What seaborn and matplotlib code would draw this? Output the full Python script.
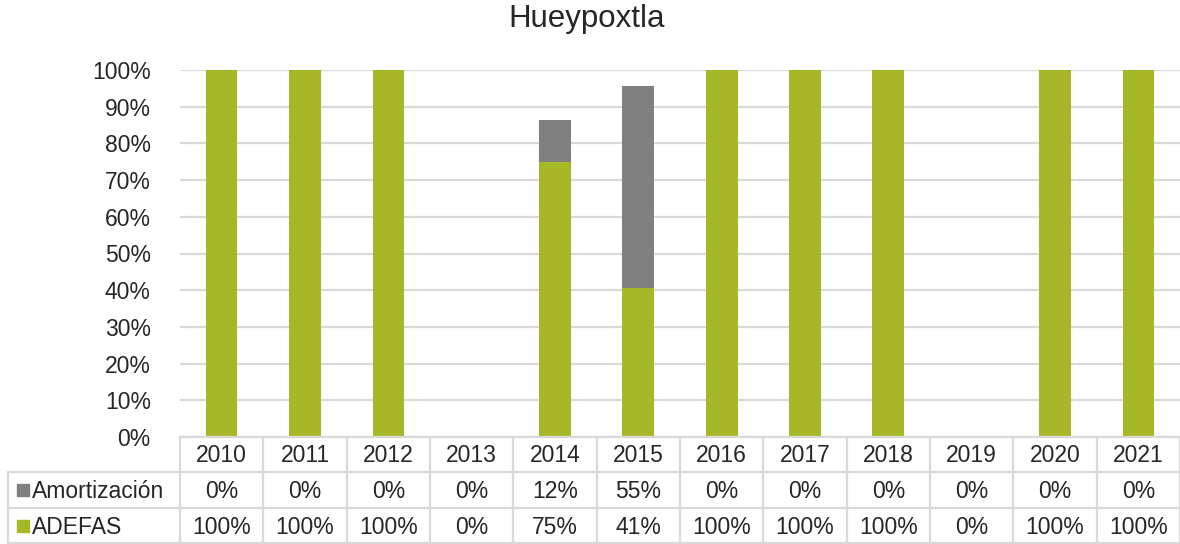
import numpy as np
import pandas as pd
import matplotlib
matplotlib.use("Agg")
import matplotlib.pyplot as plt
import seaborn as sns
from matplotlib.lines import Line2D
from matplotlib.patches import Rectangle

years = ["2010", "2011", "2012", "2013", "2014", "2015",
         "2016", "2017", "2018", "2019", "2020", "2021"]
adefas = [100, 100, 100, 0, 75, 40.6, 100, 100, 100, 0, 100, 100]
amortizacion = [0, 0, 0, 0, 11.5, 55.0, 0, 0, 0, 0, 0, 0]
series_names = ["Amortización", "ADEFAS"]

GREEN = "#A6B828"
GRAY = "#808080"
GRID = "#D9D9D9"
W, H = 1180, 544

sns.set_style("white")
plt.rcParams["font.family"] = ["Liberation Sans", "DejaVu Sans"]

df = pd.DataFrame({"year": years, "ADEFAS": adefas, "Amortización": amortizacion})
df["total"] = df["ADEFAS"] + df["Amortización"]

fig = plt.figure(figsize=(W / 100, H / 100), dpi=100)
ax = fig.add_axes([180 / W, 1 - 437 / H, 1000 / W, 367 / H])

# stacked: total in gray, ADEFAS in green on top of it
sns.barplot(data=df, x="year", y="total", color=GRAY, width=0.38,
            saturation=1, linewidth=0, ax=ax, zorder=3)
sns.barplot(data=df, x="year", y="ADEFAS", color=GREEN, width=0.38,
            saturation=1, linewidth=0, ax=ax, zorder=4)

fs = 16.5
ax.set_ylim(0, 100)
ax.set_xlim(-0.5, len(years) - 0.5)
ax.set_yticks(np.arange(0, 101, 10))
ax.set_yticklabels([f"{t}%" for t in range(0, 101, 10)], fontsize=fs)
ax.tick_params(axis="y", length=0, pad=21)
ax.set_xticks([])
ax.set_xlabel("")
ax.set_ylabel("")
ax.yaxis.grid(True, color=GRID, linewidth=1.6, zorder=0)
ax.set_axisbelow(True)
for s in ax.spines.values():
    s.set_visible(False)

fig.text(587 / W, 1 - 19 / H, "Hueypoxtla", ha="center", va="center", fontsize=22.5)


# data table below the plot, in pixel coords from the top-left
def fx(px):
    return px / W


def fy(py):
    return 1 - py / H


def hline(y, x0, x1):
    fig.add_artist(Line2D([fx(x0), fx(x1)], [fy(y), fy(y)], color=GRID, lw=1.6))


def vline(x, y0, y1):
    fig.add_artist(Line2D([fx(x), fx(x)], [fy(y0), fy(y1)], color=GRID, lw=1.6))


col_w = 1000 / len(years)
hline(437, 180, 1180)
hline(472, 8, 1180)
hline(508, 8, 1180)
hline(543, 8, 1180)
vline(8, 472, 543)
for k in range(len(years) + 1):
    vline(180 + k * col_w, 437, 543)

for i, yr in enumerate(years):
    cx = 180 + (i + 0.5) * col_w
    fig.text(fx(cx), fy(456), yr, ha="center", va="center", fontsize=fs)
    fig.text(fx(cx), fy(491), f"{amortizacion[i]:.0f}%", ha="center", va="center", fontsize=fs)
    fig.text(fx(cx), fy(527), f"{adefas[i]:.0f}%", ha="center", va="center", fontsize=fs)

for name, color, cy in [(series_names[0], GRAY, 490), (series_names[1], GREEN, 526)]:
    fig.add_artist(Rectangle((fx(17), fy(cy + 6)), 12 / W, 12 / H,
                             transform=fig.transFigure, color=color))
    fig.text(fx(32), fy(cy + 1), name, ha="left", va="center", fontsize=fs)

fig.savefig("out.png", dpi=100)
plt.close(fig)
